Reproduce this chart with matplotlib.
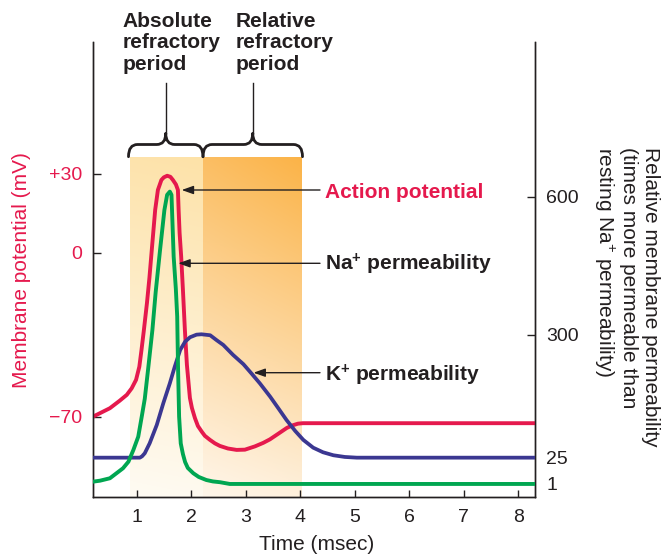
import numpy as np
import matplotlib
matplotlib.use('Agg')
import matplotlib.pyplot as plt
import matplotlib.transforms as mtransforms
from matplotlib.path import Path
from matplotlib.patches import PathPatch
from matplotlib.colors import to_rgb
from matplotlib.ticker import NullLocator

plt.rcParams['font.family'] = ['Liberation Sans', 'DejaVu Sans']
plt.rcParams['mathtext.fontset'] = 'custom'
plt.rcParams['mathtext.rm'] = 'Liberation Sans'
plt.rcParams['mathtext.bf'] = 'Liberation Sans:bold'
plt.rcParams['mathtext.it'] = 'Liberation Sans:italic'

# ---------------- data ----------------
time_ap = [0.20, 0.33, 0.51, 0.69, 0.82, 0.91, 0.99, 1.05, 1.09, 1.13,
           1.19, 1.235, 1.268, 1.305, 1.341, 1.391, 1.455, 1.50, 1.561, 1.62,
           1.666, 1.721, 1.758, 1.771, 1.789, 1.818, 1.85, 1.886, 1.923, 1.978,
           2.015, 2.07, 2.125, 2.198, 2.253, 2.345, 2.437, 2.528, 2.675, 2.835,
           2.987, 3.171, 3.323, 3.446, 3.593, 3.758, 3.851, 3.961, 4.051, 8.31]
membrane_mv = [-70.0, -68.5, -66.4, -63.2, -60.7, -57.9, -54.3, -48.7, -41.5, -33.8,
               -21.5, -10.8, -1.7, 7.5, 16.3, 23.9, 27.7, 28.7, 29.3, 28.9,
               27.7, 26.0, 23.9, 16.3, 7.5, -1.7, -15.9, -33.0, -47.9, -62.0,
               -66.3, -70.6, -74.0, -76.5, -78.2, -79.9, -81.4, -82.5, -83.6, -84.2,
               -84.1, -82.7, -81.2, -79.7, -77.4, -74.8, -73.8, -73.0, -72.8, -72.8]

time_na = [0.20, 0.33, 0.51, 0.75, 0.85, 0.94, 1.03, 1.10, 1.15, 1.21, 1.29, 1.35,
           1.43, 1.51, 1.56, 1.61, 1.64, 1.65, 1.68, 1.72, 1.745, 1.76, 1.78, 1.81,
           1.85, 1.89, 1.94, 2.04, 2.14, 2.28, 2.40, 2.53, 2.71, 8.31]
na_perm = [3.1, 4.0, 6.2, 15.3, 21.3, 42, 72, 121, 157, 222, 311, 393,
           484, 571, 604, 611, 604, 571, 470, 400, 340, 229, 117, 57,
           33, 21, 15.6, 10.8, 7.4, 4.6, 3.3, 2.6, 1, 1]

time_k = [0.20, 1.06, 1.10, 1.15, 1.24, 1.37, 1.49, 1.61, 1.70, 1.80, 1.89, 1.98,
          2.10, 2.19, 2.35, 2.47, 2.59, 2.77, 2.96, 3.11, 3.26, 3.45, 3.60, 3.75,
          3.91, 4.06, 4.24, 4.42, 4.61, 4.82, 5.04, 8.31]
k_perm = [25, 25, 28, 34.9, 57.3, 98.3, 147, 191.8, 229, 266.4, 285, 294.9,
          300.7, 301.5, 299.4, 288.2, 277.7, 255.3, 234.5, 213.4, 191.8, 161.8, 135.8, 109.5,
          84.9, 64.7, 47.4, 37.1, 30.4, 26.6, 25, 25]

absolute_period = [0.88, 2.22]
relative_period = [2.22, 4.05]

time_ticks = [1, 2, 3, 4, 5, 6, 7, 8]
mv_ticks = [30, 0, -70]
mv_ticklabels = ['+30', '0', '\u221270']
perm_major_ticks = [300, 600]
perm_minor_ticks = [1, 25]

# ---------------- styles ----------------
RED = '#E5194D'
GREEN = '#00A651'
BLUE = '#3B3791'
DARK = '#231F20'

# schematic (piecewise-linear) axis scales as drawn in the figure
mv_knots = [-200.0, -70.0, 0.0, 30.0, 200.0]
mv_pos = [-721.3, -416.7, -252.7, -174.0, 271.9]
perm_knots = [-100.0, 1.0, 25.0, 300.0, 600.0, 3000.0]
perm_pos = [-594.7, -484.0, -457.7, -335.0, -196.7, 909.7]


def mv_fwd(v):
    return np.interp(v, mv_knots, mv_pos)


def mv_inv(p):
    return np.interp(p, mv_pos, mv_knots)


def perm_fwd(v):
    return np.interp(v, perm_knots, perm_pos)


def perm_inv(p):
    return np.interp(p, perm_pos, perm_knots)


W, H = 662, 558
fig = plt.figure(figsize=(W / 100, H / 100), dpi=100)
ax = fig.add_axes([93 / W, 1 - 497 / H, (535 - 93) / W, (497 - 42) / H])
ax.set_yscale('function', functions=(mv_fwd, mv_inv))
ax2 = ax.twinx()
ax2.set_yscale('function', functions=(perm_fwd, perm_inv))

# shaded refractory periods (gradients)
trans = mtransforms.blended_transform_factory(ax.transData, ax.transAxes)
shade_top = (497 - 157) / (497 - 42)


def grad_img(top_l, top_r, bot_l, bot_r, n=200, m=60):
    t = np.linspace(0, 1, n)[:, None, None]
    s = np.linspace(0, 1, m)[None, :, None]
    tl, tr = np.array(to_rgb(top_l)), np.array(to_rgb(top_r))
    bl, br = np.array(to_rgb(bot_l)), np.array(to_rgb(bot_r))
    top = (1 - s) * tl + s * tr
    bot = (1 - s) * bl + s * br
    return (1 - t) * top + t * bot


img_abs = grad_img('#FDE3AC', '#FDE2A8', '#FFFBF3', '#FFFAF0')
img_rel = grad_img('#FBBE63', '#FBB347', '#FFF6EA', '#FEF0DC')
ax.imshow(img_abs, extent=[absolute_period[0], absolute_period[1], 0, shade_top],
          transform=trans, aspect='auto', origin='upper', zorder=0, interpolation='bilinear')
ax.imshow(img_rel, extent=[relative_period[0], relative_period[1], 0, shade_top],
          transform=trans, aspect='auto', origin='upper', zorder=0, interpolation='bilinear')

# curves
ax2.plot(time_k, k_perm, color=BLUE, lw=2.7, solid_joinstyle='round', zorder=3)
ax2.plot(time_na, na_perm, color=GREEN, lw=2.8, solid_joinstyle='round', zorder=3)
ax.plot(time_ap, membrane_mv, color=RED, lw=2.8, solid_joinstyle='round', zorder=3)

# limits
ax.set_xlim(0.2, 8.31)
ax.set_ylim(-104.3, 80.3)
ax2.set_ylim(-10.9, 935.6)

# ticks
ax.set_xticks(time_ticks)
ax.set_xticklabels([str(t) for t in time_ticks])
ax.set_yticks(mv_ticks)
ax.set_yticklabels(mv_ticklabels)
ax.yaxis.set_minor_locator(NullLocator())
ax.xaxis.set_minor_locator(NullLocator())
ax2.set_yticks(perm_major_ticks)
ax2.set_yticklabels([str(v) for v in perm_major_ticks])
ax2.set_yticks(perm_minor_ticks, minor=True)
ax2.set_yticklabels([str(v) for v in perm_minor_ticks], minor=True)

ax.tick_params(axis='x', direction='in', length=5, width=1, pad=9, labelsize=14,
               colors=DARK)
ax.tick_params(axis='y', direction='in', length=6, width=1, pad=8, labelsize=14,
               color=DARK, labelcolor=RED)
ax2.tick_params(axis='y', which='major', direction='in', length=6, width=1, pad=8,
                labelsize=14, color=DARK, labelcolor=DARK)
ax2.tick_params(axis='y', which='minor', direction='in', length=0, pad=8,
                labelsize=14, labelcolor=DARK)

for a in (ax, ax2):
    a.spines['top'].set_visible(False)
    for sp in a.spines.values():
        sp.set_linewidth(1.0)
        sp.set_color(DARK)

# ---------------- annotation overlay (pixel coordinates) ----------------
ov = fig.add_axes([0, 0, 1, 1])
ov.set_xlim(0, W)
ov.set_ylim(H, 0)
ov.axis('off')
ov.patch.set_visible(False)


def brace(x0, x1, yb=156.7, ybar=144.5, ytip=133.3, r=9.0):
    xm = (x0 + x1) / 2
    verts = [(x0, yb), (x0, ybar), (x0 + r, ybar),
             (xm - r, ybar),
             (xm, ybar), (xm, ytip),
             (xm, ybar), (xm + r, ybar),
             (x1 - r, ybar),
             (x1, ybar), (x1, yb)]
    codes = [Path.MOVETO, Path.CURVE3, Path.CURVE3,
             Path.LINETO,
             Path.CURVE3, Path.CURVE3,
             Path.CURVE3, Path.CURVE3,
             Path.LINETO,
             Path.CURVE3, Path.CURVE3]
    ov.add_patch(PathPatch(Path(verts, codes), facecolor='none', edgecolor=DARK,
                           lw=2.0, capstyle='round', joinstyle='round'))
    ov.plot([xm, xm], [83, ytip], color=DARK, lw=1.0)


brace(128.5, 203.0)
brace(203.0, 302.5)

ov.text(122.3, 12, 'Absolute\nrefractory\nperiod', ha='left', va='top', fontsize=15,
        fontweight='bold', color=DARK, linespacing=1.15)
ov.text(235.7, 12, 'Relative\nrefractory\nperiod', ha='left', va='top', fontsize=15,
        fontweight='bold', color=DARK, linespacing=1.15)

arrow_kw = dict(arrowstyle='-|>,head_length=0.7,head_width=0.25', color=DARK, lw=1.0,
                shrinkA=0, shrinkB=0, mutation_scale=10)
ov.annotate('', xy=(181.7, 190.0), xytext=(320, 190.0), arrowprops=arrow_kw)
ov.annotate('', xy=(178.3, 263.3), xytext=(320, 263.3), arrowprops=arrow_kw)
ov.annotate('', xy=(253.5, 372.7), xytext=(320, 372.7), arrowprops=arrow_kw)

ov.text(325, 198.3, 'Action potential', ha='left', va='baseline', fontsize=15,
        fontweight='bold', color=RED)
ov.text(325, 270.0, r'Na$^{\mathbf{+}}$ permeability', ha='left', va='baseline',
        fontsize=15, fontweight='bold', color=DARK)
ov.text(325, 381.7, r'K$^{\mathbf{+}}$ permeability', ha='left', va='baseline',
        fontsize=15, fontweight='bold', color=DARK)

ov.text(21.7, 270, 'Membrane potential (mV)', rotation=90, ha='center', va='center',
        fontsize=15, color=RED)
ov.text(626, 146.7, 'Relative membrane permeability\n(times more permeable than\n'
        r'resting Na$^{+}$ permeability)', rotation=-90, ha='center', va='top',
        multialignment='left', fontsize=15, color=DARK, linespacing=1.2)
ov.text(317, 545, 'Time (msec)', ha='center', va='center', fontsize=15, color=DARK)

fig.savefig('out.png', dpi=100)
